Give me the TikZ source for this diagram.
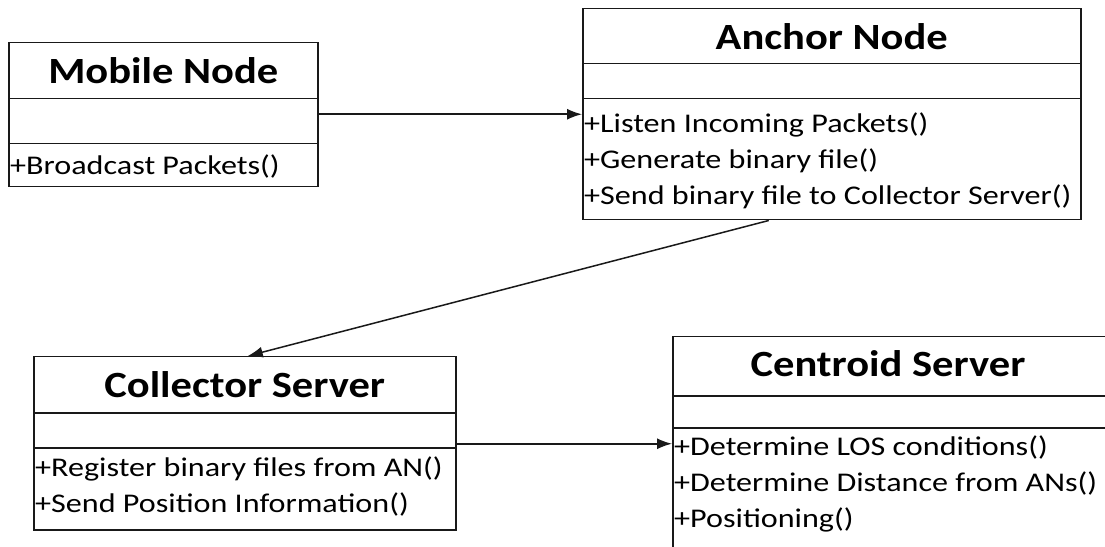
\documentclass[tikz,border=0pt]{standalone}
\usepackage{graphicx}
\usepackage{fontspec}
\setmainfont{Carlito}
\usetikzlibrary{arrows.meta,calc}

% class names and operations are set slightly wide
\newcommand\titlestretch[1]{\scalebox{1.15}[1]{#1}}
\newcommand\methstretch[1]{\scalebox{1.19}[1]{#1}}

\begin{document}
\begin{tikzpicture}[x=1bp,y=-1bp,
  box/.style={draw=black!90, line width=1.5bp, inner sep=0pt, anchor=north west},
  titlebox/.style={box, font=\fontsize{37bp}{40bp}\selectfont\bfseries},
  methtext/.style={inner xsep=2bp, inner ysep=6bp, anchor=north west, align=left,
    font=\fontsize{27bp}{36bp}\selectfont},
  link/.style={draw=black!90, line width=1.5bp, -{Latex[length=15bp,width=11bp]}}]
\useasboundingbox[fill=white] (0,0) rectangle (1105,547);
\begin{scope}
\clip (0,0) rectangle (1105,547);

% Mobile Node class
\node[titlebox, minimum width=309bp, minimum height=56bp] (mntitle) at (8,42)
  {\titlestretch{Mobile Node}};
\node[box, minimum width=309bp, minimum height=45bp] (mnattr) at (8,98) {};
\node[box, minimum width=309bp, minimum height=43bp] (mnmeth) at (8,143) {};
\node[methtext] (mntext) at (8,149) {\methstretch{+Broadcast Packets()}};

% Anchor Node class
\node[titlebox, minimum width=498bp, minimum height=55bp] (antitle) at (582,8)
  {\titlestretch{Anchor Node}};
\node[box, minimum width=498bp, minimum height=35bp] (anattr) at (582,63) {};
\node[box, minimum width=498bp, minimum height=121bp] (anmeth) at (582,98) {};
\node[methtext] (antext) at (582,107)
  {\methstretch{+Listen Incoming Packets()}\\
   \methstretch{+Generate binary file()}\\
   \methstretch{+Send binary file to Collector Server()}};

% Collector Server class
\node[titlebox, minimum width=422bp, minimum height=56bp] (cstitle) at (33,356)
  {\titlestretch{Collector Server}};
\node[box, minimum width=422bp, minimum height=35bp] (csattr) at (33,412) {};
\node[box, minimum width=422bp, minimum height=82bp] (csmeth) at (33,447) {};
\node[methtext] (cstext) at (33,451)
  {\methstretch{+Register binary files from AN()}\\
   \methstretch{+Send Position Information()}};

% Centroid Server class (runs past the right and bottom edges)
\node[box, minimum width=448bp, minimum height=59bp] (cetitle) at (672,336) {};
\node[font=\fontsize{37bp}{40bp}\selectfont\bfseries] (cename) at (888,364)
  {\titlestretch{Centroid Server}};
\node[box, minimum width=448bp, minimum height=32bp] (ceattr) at (672,395) {};
\node[box, minimum width=448bp, minimum height=150bp] (cemeth) at (672,427) {};
\node[methtext] (cetext) at (672,430)
  {\methstretch{+Determine LOS conditions()}\\
   \methstretch{+Determine Distance from ANs()}\\
   \methstretch{+Positioning()}};

% Associations
\draw[link] ([yshift=7bp]mnattr.east) -- ([yshift=7bp]mnattr.east -| anmeth.west);
\draw[link] ([xshift=-63bp]anmeth.south) -- ([xshift=3bp]cstitle.north);
\draw[link] ([yshift=-13.5bp]csattr.east) -- ([yshift=-13.5bp]csattr.east -| cemeth.west);
\end{scope}
\end{tikzpicture}
\end{document}
